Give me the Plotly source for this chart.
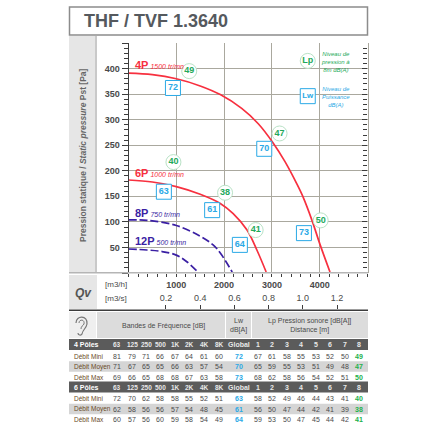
import plotly.graph_objects as go

# curves, Qv [m3/h] / static pressure [Pa]
qv_4p = [0, 500, 1000, 1500, 1920, 2368, 2715, 3029, 3274, 3519, 3651, 3839, 4006, 4215]
ps_4p = [391, 388, 380, 366, 349, 322, 292, 254, 218, 175, 149, 103, 56, 2]
qv_6p = [0, 500, 1000, 1500, 1920, 2190, 2480, 2690, 2880]
ps_6p = [182, 178, 169, 154, 136, 116, 84, 44, 2]
qv_8p = [0, 400, 1000, 1500, 1770, 1920, 2170]
ps_8p = [104, 103, 93, 72, 55, 39, 2]
qv_12p = [0, 385, 700, 1000, 1220, 1430]
ps_12p = [47, 45, 42, 35, 22, 4]

# callouts on the curves
lp_qv = [1270, 3160, 4020, 940, 2020, 2660]
lp_ps = [395, 273, 103, 217, 157, 84]
lp_txt = ["49", "47", "50", "40", "38", "41"]
lw_qv = [930, 2840, 3670, 740, 1750, 2330]
lw_ps = [362, 243, 78, 159, 123, 55]
lw_txt = ["72", "70", "73", "63", "61", "64"]

# table
freqs = ["63", "125", "250", "500", "1K", "2K", "4K", "8K"]
dists = ["1", "2", "3", "4", "5", "6", "7", "8"]
row_names = ["Débit Mini", "Débit Moyen", "Débit Max"]
bands_4p = [[81, 79, 71, 66, 67, 64, 61, 60], [71, 67, 65, 65, 66, 63, 57, 54], [69, 66, 65, 68, 68, 67, 63, 58]]
global_4p = [72, 70, 73]
lp_4p = [[67, 61, 58, 55, 53, 52, 50, 49], [65, 59, 55, 53, 51, 49, 48, 47], [68, 62, 58, 56, 54, 52, 51, 50]]
bands_6p = [[72, 70, 62, 58, 58, 55, 52, 51], [62, 58, 56, 56, 57, 54, 48, 45], [60, 57, 56, 60, 59, 58, 54, 49]]
global_6p = [63, 61, 64]
lp_6p = [[58, 52, 49, 46, 44, 43, 41, 40], [56, 50, 47, 44, 42, 41, 39, 38], [59, 53, 50, 47, 45, 44, 42, 41]]

RED = "#f7303f"
PURPLE = "#3a1fa3"
GREEN = "#22a95a"
BLUE = "#2aa9e6"
GRID = "#aaa89e"
DARK = "#3c3c3c"
TXT = "#4a4a4a"
FONT = "Liberation Sans"
W = 440


def fx(x):
    return x / W


def fy(y):
    return 1 - y / W


fig = go.Figure()
annots = []
shapes = []


def label(x, y, text, size=7, color=TXT, anchor="center", angle=0, bold=False, italic=False):
    if bold:
        text = "<b>" + text + "</b>"
    if italic:
        text = "<i>" + text + "</i>"
    annots.append(dict(x=fx(x), y=fy(y), xref="paper", yref="paper", text=text, showarrow=False,
                       xanchor=anchor, yanchor="middle", textangle=angle,
                       font=dict(size=size, color=color, family=FONT)))


def box(x0, y0, x1, y1, fill=None, line=None, lw=1, layer="below"):
    shapes.append(dict(type="rect", xref="paper", yref="paper", x0=fx(x0), x1=fx(x1), y0=fy(y0), y1=fy(y1),
                       fillcolor=fill if fill else "rgba(0,0,0,0)",
                       line=dict(color=line if line else "rgba(0,0,0,0)", width=lw if line else 0), layer=layer))


def curve_path(points):
    # points in page pixels: start, then groups of three for each bezier piece
    out = "M %f,%f" % (fx(points[0][0]), fy(points[0][1]))
    for i in range(1, len(points), 3):
        out += " C " + " ".join("%f,%f" % (fx(p[0]), fy(p[1])) for p in points[i:i + 3])
    return out


fig.add_trace(go.Scatter(x=qv_4p, y=ps_4p, mode="lines", line=dict(color=RED, width=1.7, shape="spline")))
fig.add_trace(go.Scatter(x=qv_6p, y=ps_6p, mode="lines", line=dict(color=RED, width=1.7, shape="spline")))
fig.add_trace(go.Scatter(x=qv_8p, y=ps_8p, mode="lines", line=dict(color=PURPLE, width=1.7, dash="8px,3px", shape="spline")))
fig.add_trace(go.Scatter(x=qv_12p, y=ps_12p, mode="lines", line=dict(color=PURPLE, width=1.7, dash="8px,3px", shape="spline")))
fig.add_trace(go.Scatter(x=lp_qv, y=lp_ps, mode="markers+text", text=lp_txt, textposition="middle center",
                         textfont=dict(size=9, color=GREEN, family=FONT, weight="bold"),
                         marker=dict(symbol="circle", size=15, color="white", line=dict(color="#b9e2c6", width=1))))
fig.add_trace(go.Scatter(x=lw_qv, y=lw_ps, mode="markers+text", text=lw_txt, textposition="middle center",
                         textfont=dict(size=9, color=BLUE, family=FONT, weight="bold"),
                         marker=dict(symbol="square", size=15, color="white", line=dict(color=BLUE, width=1))))
# right hand pressure scale, only there for its ticks
fig.add_trace(go.Scatter(x=[0], y=[0], yaxis="y2", mode="markers", marker=dict(opacity=0), hoverinfo="skip"))

# white patches where the grid is interrupted
box(296, 44, 366, 124, fill="white")
box(130, 60, 182, 72, fill="white")
box(130, 164, 183, 178, fill="white")
box(130, 234, 180, 252, fill="white")

# frames and side panels
box(69.5, 7, 367.5, 35, line="#8c8c8c", lw=1.5)
box(69, 36, 96, 272, fill="#e6e6e6")
box(95, 36, 97, 272, fill="#c9c9c9")
box(69, 275, 97, 309, fill="#e6e6e6")
box(69, 272, 368, 273.5, fill="#b5b5b5", layer="above")
box(69, 309.5, 368, 311, fill=DARK)

label(82, 21, "THF / TVF 1.3640", size=18, color="#55595e", anchor="left", bold=True)
label(83, 155, "Pression statique / <i>Static pressure</i> Pst [Pa]", size=8.5, color="#666666", angle=-90, bold=True)
label(83, 293, "Qv", size=12, color="#555555", bold=True, italic=True)
label(116, 284, "[m3/h]", size=8)
label(116, 298, "[m3/s]", size=8)

# curve names
curve_names = [("4P", "1500 tr/mn", 64.5, RED), ("6P", "1000 tr/mn", 173, RED),
               ("8P", "750 tr/mn", 213, PURPLE), ("12P", "500 tr/mn", 241, PURPLE)]
for name, speed, ypos, col in curve_names:
    label(133, ypos, '<b style="font-size:11px">%s</b> <i style="font-size:7px">%s</i>' % (name, speed),
          color=col, anchor="left")

# key
fig.add_trace(go.Scatter(x=[3750], y=[415], mode="markers+text", text=["Lp"], textposition="middle center",
                         textfont=dict(size=9, color=GREEN, family=FONT, weight="bold"),
                         marker=dict(symbol="circle", size=15, color="white", line=dict(color="#b9e2c6", width=1))))
fig.add_trace(go.Scatter(x=[3750], y=[346], mode="markers+text", text=["Lw"], textposition="middle center",
                         textfont=dict(size=8, color=BLUE, family=FONT, weight="bold"),
                         marker=dict(symbol="square", size=15, color="white", line=dict(color=BLUE, width=1))))
label(319, 62, "Niveau de<br>pression à<br>8m dB(A)", size=6, color=GREEN, anchor="left", italic=True)
label(320, 97, "Niveau de<br>Puissance<br>dB(A)", size=6, color=BLUE, anchor="left", italic=True)

# table
band_x = [117, 132, 146, 160, 175, 189, 204, 219]
dist_x = [258, 272, 287, 301, 316, 330, 345, 359]
box(69, 312, 96, 338, fill="#efefef")
box(97, 312, 225, 338, fill="#dcdcdc")
box(226, 312, 251, 338, fill="#dcdcdc")
box(252, 312, 368, 338, fill="#dcdcdc")
# ear pictogram
ear_outer = [(76, 323), (76, 315), (88, 315), (87, 324), (86, 329), (83, 329), (82, 334), (81, 336), (78, 335), (78, 333)]
ear_inner = [(79, 323), (79, 319), (85, 319), (84, 324), (83, 326), (81, 326), (81, 329)]
shapes.append(dict(type="path", xref="paper", yref="paper", path=curve_path(ear_outer), line=dict(color="#777777", width=1.2), layer="below"))
shapes.append(dict(type="path", xref="paper", yref="paper", path=curve_path(ear_inner), line=dict(color="#777777", width=1), layer="below"))
label(163, 326, "Bandes de Fréquence [dB]", size=7)
label(238, 325, "Lw<br>dB[A]", size=7)
label(309, 325, "Lp Pression sonore [dB[A]]<br>Distance [m]", size=7)


def table_block(top, title, bands, glob, lp):
    box(69, top - 5.5, 368, top + 5.5, fill="#5b5b5b")
    label(72, top, title, size=7, color="white", anchor="left", bold=True)
    for x, f in zip(band_x, freqs):
        label(x, top, f, size=6.5, color="#e8e8e8", bold=True)
    label(239, top, "Global", size=7, color="#e8e8e8", bold=True)
    for x, d in zip(dist_x, dists):
        label(x, top, d, size=7, color="#e8e8e8", bold=True)
    for i, name in enumerate(row_names):
        y = top + 11.5 + i * 10.5
        if i == 1:
            box(69, y - 5.2, 368, y + 5.2, fill="#d5d5d5")
        label(72, y, name, size=6.5, color="#6a4a28", anchor="left")
        for x, v in zip(band_x, bands[i]):
            label(x, y, str(v), size=7)
        label(239, y, str(glob[i]), size=7, color=BLUE, bold=True)
        for j, (x, v) in enumerate(zip(dist_x, lp[i])):
            if j == 7:
                label(x, y, str(v), size=7, color="#22b14c", bold=True)
            else:
                label(x, y, str(v), size=7)


table_block(344.5, "4 Pôles", bands_4p, global_4p, lp_4p)
table_block(387, "6 Pôles", bands_6p, global_6p, lp_6p)

fig.update_layout(
    width=440, height=440, margin=dict(l=0, r=0, t=0, b=0), showlegend=False,
    paper_bgcolor="white", plot_bgcolor="white", annotations=annots, shapes=shapes,
    font=dict(family=FONT, color=TXT),
    xaxis=dict(domain=[fx(128.5), fx(367.5)], range=[0, 5000], tickvals=[1000, 2000, 3000, 4000],
               ticks="outside", ticklen=3, tickcolor=DARK, showgrid=True, gridcolor=GRID, gridwidth=1.3,
               tickfont=dict(size=9, color=TXT, family=FONT, weight="bold"),
               minor=dict(dtick=200, tick0=0, ticks="outside", ticklen=3, tickcolor=DARK, showgrid=False),
               showline=False, zeroline=False),
    yaxis=dict(domain=[fy(273), fy(43)], range=[0, 450],
               tickvals=[0, 50, 100, 150, 200, 250, 300, 350, 400, 450],
               ticktext=["", "50", "100", "150", "200", "250", "300", "350", "400", ""],
               ticks="outside", ticklen=6, tickcolor=DARK, showgrid=True, gridcolor=GRID, gridwidth=1.3,
               tickfont=dict(size=9, color=TXT, family=FONT, weight="bold"),
               minor=dict(dtick=10, tick0=0, ticks="outside", ticklen=4, tickcolor=DARK, showgrid=False),
               showline=True, linecolor=DARK, linewidth=1, zeroline=False),
    yaxis2=dict(overlaying="y", side="right", range=[0, 450], tickvals=[0, 50, 100, 150, 200, 250, 300, 350, 400, 450],
                ticktext=[""] * 10, ticks="inside", ticklen=5, tickcolor=DARK, showgrid=False, zeroline=False,
                minor=dict(dtick=10, tick0=0, ticks="inside", ticklen=4, tickcolor=DARK),
                showline=True, linecolor=GRID, linewidth=1.3),
    # m3/s scale sits on the table's top rule
    xaxis2=dict(domain=[fx(128.5), fx(367.5)], anchor="y3", side="top", range=[-0.019, 1.378],
                tickvals=[0.2, 0.4, 0.6, 0.8, 1.0, 1.2], ticktext=["0.2", "0.4", "0.6", "0.8", "1.0", "1.2"],
                ticks="outside", ticklen=4, tickcolor=DARK, showgrid=False, zeroline=False,
                tickfont=dict(size=9, color=TXT, family=FONT)),
    yaxis3=dict(domain=[fy(310), fy(309.5)], visible=False, anchor="x2"),
)
fig.add_trace(go.Scatter(x=[0.2], y=[0], xaxis="x2", yaxis="y3", mode="markers", marker=dict(opacity=0), hoverinfo="skip"))

# the page's default body margin would push everything 8px off
fig.write_html("out.html", config={"displayModeBar": False}, post_script="document.body.style.margin='0';")
